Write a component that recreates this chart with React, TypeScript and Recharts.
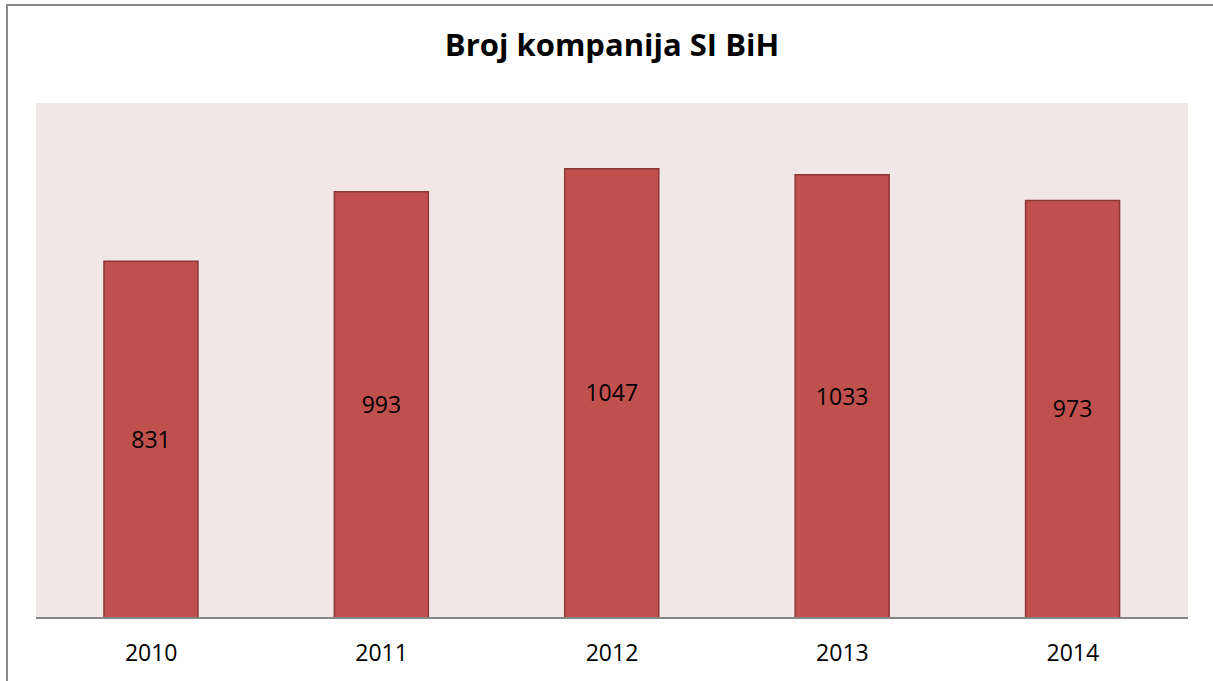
import { Bar, BarChart, CartesianGrid, LabelList, XAxis, YAxis } from 'recharts';

const years = ['2010', '2011', '2012', '2013', '2014'];
const companies = [831, 993, 1047, 1033, 973];

const data = years.map((year, i) => ({ year, count: companies[i] }));

const font = '"Open Sans", sans-serif';

export default function App() {
  return (
    <div style={{ position: 'absolute', left: 0, top: 0, width: 1213, height: 681, overflow: 'hidden', background: '#fff' }}>
      <div
        style={{
          position: 'absolute',
          left: 6,
          top: 4,
          width: 1240,
          height: 720,
          border: '2px solid #878787',
        }}
      />
      <div
        style={{
          position: 'absolute',
          left: 0,
          top: 23,
          width: 1224,
          textAlign: 'center',
          fontFamily: font,
          fontWeight: 700,
          fontSize: 31,
          lineHeight: 'normal',
          color: '#000',
        }}
      >
        Broj kompanija SI BiH
      </div>
      <div style={{ position: 'absolute', left: 0, top: 0 }}>
        <BarChart
          width={1213}
          height={681}
          data={data}
          margin={{ top: 103, right: 25, left: 36, bottom: 13 }}
          barCategoryGap="29.5%"
        >
          <CartesianGrid fill="#F2E7E7" horizontal={false} vertical={false} />
          <YAxis hide domain={[0, 1200]} />
          <XAxis
            dataKey="year"
            height={50}
            axisLine={{ stroke: '#868686', strokeWidth: 2 }}
            tickLine={false}
            tickMargin={21}
            tick={{ fontSize: 23, fill: '#000', fontFamily: font }}
          />
          <Bar dataKey="count" fill="#C0504D" stroke="#8C3836" strokeWidth={1.5} isAnimationActive={false}>
            <LabelList dataKey="count" position="center" fill="#000" fontSize={23} fontFamily={font} />
          </Bar>
        </BarChart>
      </div>
    </div>
  );
}
